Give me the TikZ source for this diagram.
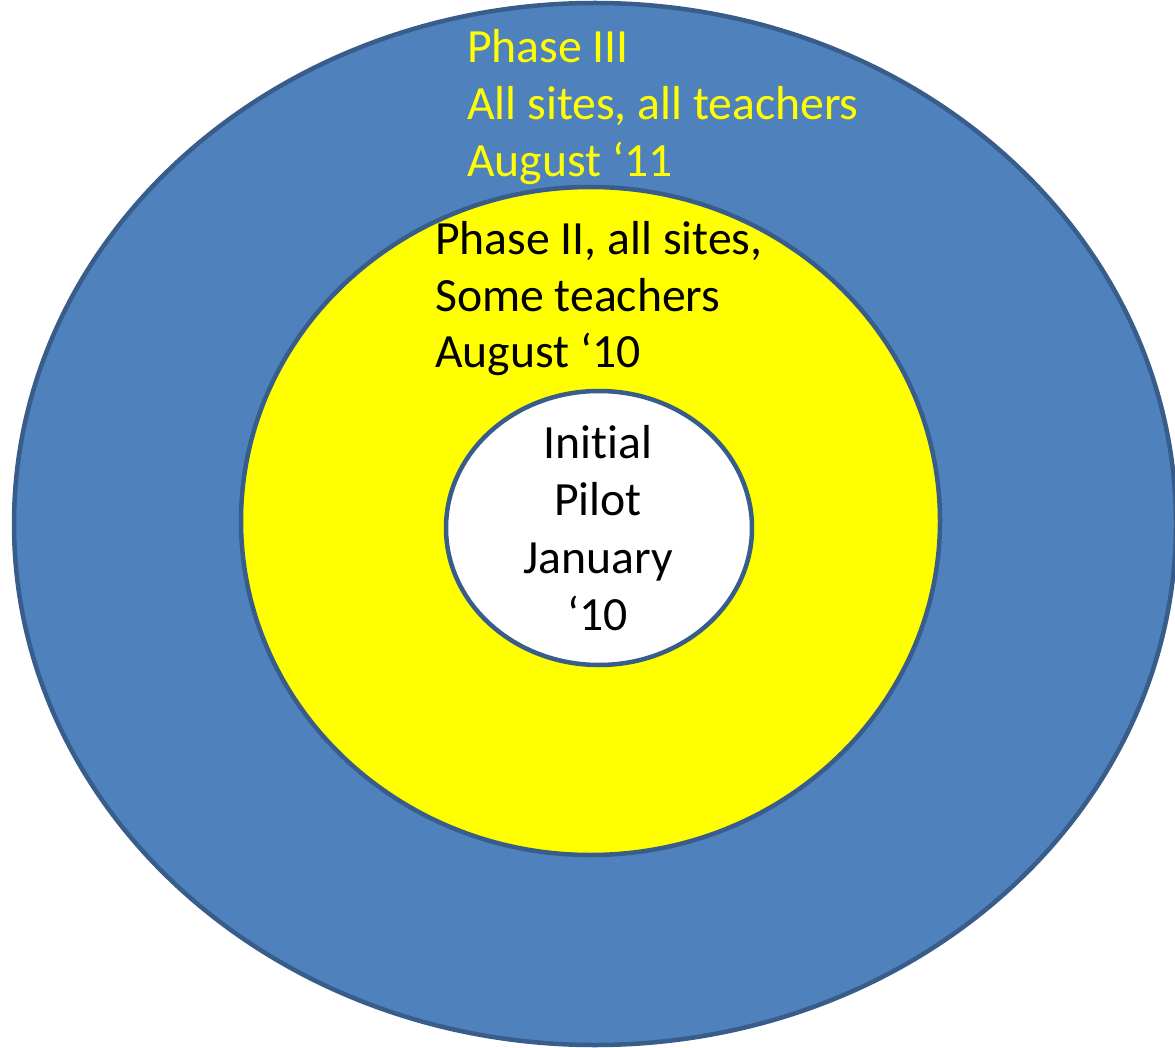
\documentclass[tikz,border=0pt]{standalone}
\usepackage{fontspec}
\setmainfont[Ligatures=CommonOff]{Carlito}
\definecolor{oblue}{HTML}{4F81BD}
\definecolor{oedge}{HTML}{385D8A}
\definecolor{oyel}{HTML}{FFFF00}
\begin{document}
\begin{tikzpicture}[x=1pt,y=-1pt,
  ring/.style={draw=oedge,line width=4.5pt},
  lbl/.style={inner sep=0pt,font=\fontsize{47.7}{57}\selectfont}]
\useasboundingbox (0,0) rectangle (1175,1048);
\path[ring,fill=oblue] (595,524) ellipse [x radius=581,y radius=521];
\path[ring,fill=oyel] (590.5,521) ellipse [x radius=349.5,y radius=334];
\path[ring,fill=white] (599,528) ellipse [x radius=153,y radius=137];
% Phase III
\node[lbl,text=oyel,anchor=base west] (p3a) at (467,63) {Phase III};
\node[lbl,text=oyel,anchor=base west] (p3b) at (467,120) {All sites, all teachers};
\node[lbl,text=oyel,anchor=base west] (p3c) at (467,177) {August ‘11};
% Phase II
\node[lbl,anchor=base west] (p2a) at (435,255) {Phase II, all sites,};
\node[lbl,anchor=base west] (p2b) at (435,312) {Some teachers};
\node[lbl,anchor=base west] (p2c) at (435,368) {August ‘10};
% Initial
\node[lbl,anchor=base] (p1a) at (598,458) {Initial};
\node[lbl,anchor=base] (p1b) at (598,515) {Pilot};
\node[lbl,anchor=base] (p1c) at (598,573) {January};
\node[lbl,anchor=base] (p1d) at (598,630) {‘10};
\end{tikzpicture}
\end{document}
